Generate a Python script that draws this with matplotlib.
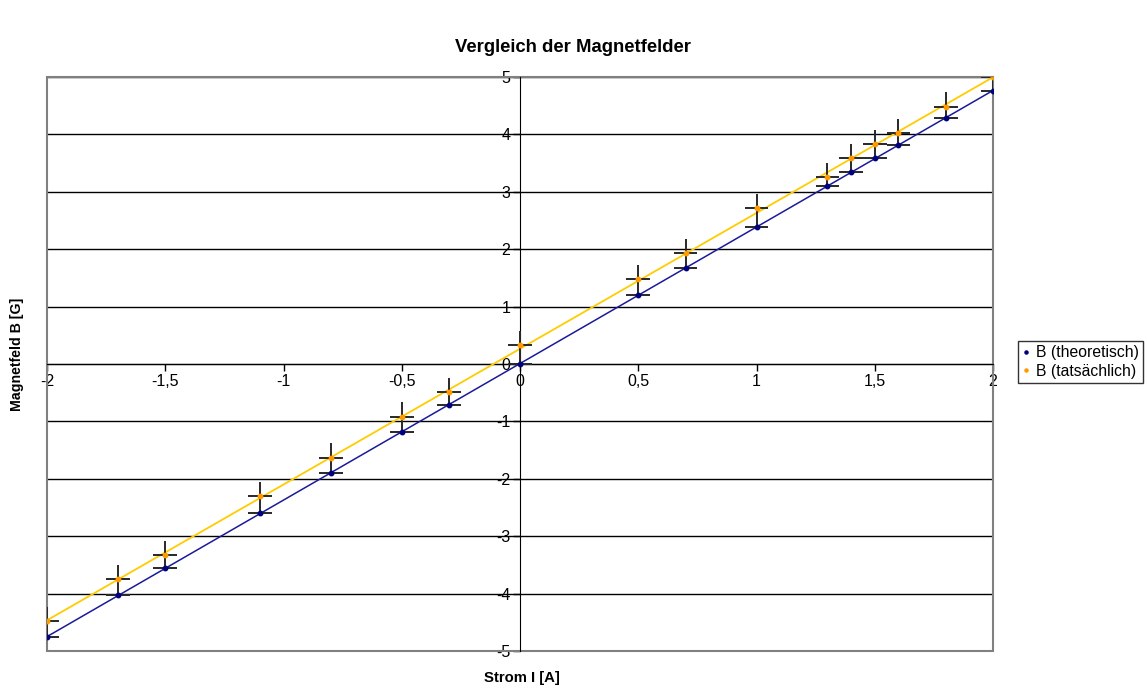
import matplotlib.pyplot as plt
import numpy as np
from matplotlib.patches import Rectangle

plt.rcParams['font.family'] = ['Liberation Sans', 'DejaVu Sans']

# Messwerte
strom = [-2, -1.7, -1.5, -1.1, -0.8, -0.5, -0.3, 0, 0.5, 0.7, 1, 1.3, 1.4, 1.5, 1.6, 1.8, 2]
b_theo = [-4.75, -4.03, -3.56, -2.60, -1.90, -1.19, -0.71, 0.0, 1.20, 1.67, 2.39,
          3.10, 3.34, 3.59, 3.81, 4.29, 4.76]
b_ist = [-4.48, -3.75, -3.33, -2.30, -1.63, -0.92, -0.49, 0.33, 1.48, 1.93, 2.72,
         3.26, 3.59, 3.83, 4.02, 4.48, 5.00]
x_fehler = 0.05
y_fehler = 0.25

x_ticks = [-2, -1.5, -1, -0.5, 0, 0.5, 1, 1.5, 2]
y_ticks = [-5, -4, -3, -2, -1, 0, 1, 2, 3, 4, 5]

I = np.array(strom)
bt = np.array(b_theo)
bi = np.array(b_ist)

fig = plt.figure(figsize=(11.47, 6.88), dpi=100)
ax = fig.add_axes([47 / 1147, 1 - 651 / 688, (993 - 47) / 1147, (651 - 77) / 688])

# Trendlinien
xs = np.array([-2, 2])
k1, d1 = np.polyfit(I, bt, 1)
k2, d2 = np.polyfit(I, bi, 1)
ax.plot(xs, k1 * xs + d1, color='#1a1a9a', lw=1.1, zorder=3)
ax.plot(xs, k2 * xs + d2, color='#ffcc00', lw=1.3, zorder=3)

# Fehlerbalken
ax.errorbar(I, bt, xerr=x_fehler, fmt='none', ecolor='#282828', elinewidth=1.4, capsize=0, zorder=4)
ax.errorbar(I, bi, xerr=x_fehler, yerr=[bi - bt, np.full(len(bi), y_fehler)], fmt='none',
            ecolor='#282828', elinewidth=1.4, capsize=0, zorder=4)

l1, = ax.plot(I, bt, 'o', color='#000080', ms=3.2, zorder=5, label='B (theoretisch)')
l2, = ax.plot(I, bi, 'o', color='#ff9900', ms=3.2, zorder=5, label='B (tatsächlich)')

ax.set_xlim(-2, 2)
ax.set_ylim(-5, 5)
ax.set_xticks(x_ticks)
ax.set_yticks(y_ticks)
ax.set_xticklabels([f"{v:g}".replace('.', ',') for v in x_ticks])
ax.set_yticklabels([f"{v:g}" for v in y_ticks])
ax.tick_params(axis='both', labelsize=11.5, length=5, width=1, color='black', pad=2)

for y in y_ticks:
    ax.axhline(y, color='black', lw=1, zorder=1)

ax.spines['left'].set_position(('data', 0))
ax.spines['bottom'].set_position(('data', 0))
ax.spines['left'].set_color('black')
ax.spines['bottom'].set_color('black')
ax.spines['top'].set_visible(False)
ax.spines['right'].set_visible(False)
ax.add_patch(Rectangle((0, 0), 1, 1, transform=ax.transAxes, fill=False,
                       edgecolor='#808080', lw=1.5, clip_on=False, zorder=2))

fig.text(573 / 1147, 1 - 47 / 688, 'Vergleich der Magnetfelder', ha='center', va='center',
         fontsize=13.3, fontweight='bold')
fig.text(522 / 1147, 1 - 678 / 688, 'Strom I [A]', ha='center', va='center',
         fontsize=10.7, fontweight='bold')
fig.text(17 / 1147, 1 - 354 / 688, 'Magnetfeld B [G]', ha='center', va='center',
         rotation=90, fontsize=10.2, fontweight='bold')

leg = fig.legend(handles=[l1, l2], loc='center left', bbox_to_anchor=(1018 / 1147, 1 - 362 / 688),
                 fontsize=11.3, frameon=True, fancybox=False, handlelength=0.5, handletextpad=0.4,
                 borderpad=0.25, labelspacing=0.25, borderaxespad=0, markerscale=0.7)
leg.get_frame().set_edgecolor('black')
leg.get_frame().set_linewidth(1)

fig.savefig('out.png', dpi=100)
